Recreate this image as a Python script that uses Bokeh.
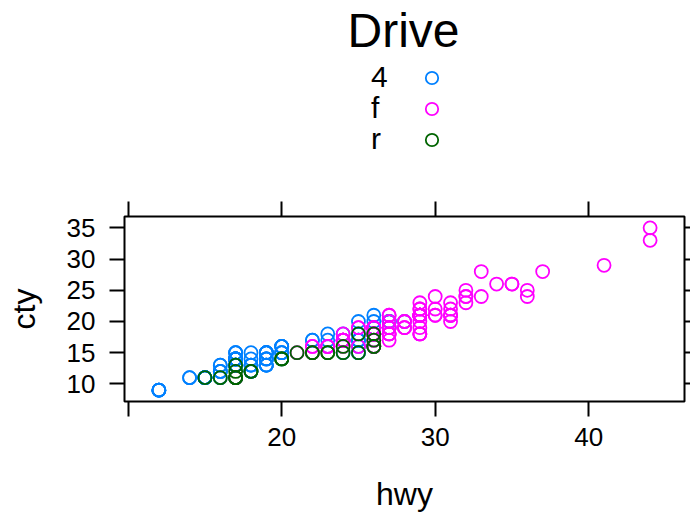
from bokeh.plotting import figure
from bokeh.layouts import column
from bokeh.models import (Range1d, LinearAxis, FixedTicker, Legend, LegendItem, Label)
from bokeh.embed import file_html
from bokeh.resources import INLINE

# ---- data (mpg: hwy vs cty by drive train) ----
hwy_4 = [26, 25, 28, 27, 25, 25, 25, 25, 24, 25, 23,
         19, 14, 15, 17,
         19, 18, 17, 17, 19, 19, 12, 17, 15,
         17, 17, 12, 17, 16, 18, 15,
         16, 12, 17, 17, 16, 12, 15, 16, 17, 15,
         17, 19, 19, 19, 19, 17,
         17, 17, 16, 16, 17, 15, 17,
         22, 19, 20, 17, 12, 19, 18, 14,
         15, 18, 18, 15,
         17, 19, 19, 17,
         17, 17, 20, 18,
         25, 24, 27, 25, 26, 23,
         26, 26, 26, 26, 27, 23, 27, 26,
         20, 20, 19, 17, 20, 17,
         15, 18,
         20, 20, 22, 17, 19, 18, 20]
cty_4 = [18, 16, 20, 19, 15, 17, 17, 15, 15, 17, 16,
         14, 11, 11, 14,
         15, 14, 13, 14, 14, 14, 9, 11, 11,
         13, 13, 9, 13, 11, 13, 11,
         12, 9, 13, 13, 12, 9, 11, 12, 13, 11,
         14, 15, 15, 13, 13, 14,
         14, 14, 13, 13, 13, 11, 13,
         17, 15, 15, 14, 9, 14, 13, 11,
         11, 12, 12, 11,
         14, 13, 13, 14,
         14, 15, 14, 12,
         18, 18, 20, 20, 20, 18,
         21, 19, 19, 19, 20, 17, 20, 19,
         15, 16, 15, 15, 16, 14,
         11, 13,
         15, 16, 17, 15, 15, 15, 16]

hwy_f = [29, 29, 31, 30, 26, 26, 27,
         27, 30, 26, 29, 26,
         24, 24, 22, 22, 24, 24, 17, 22, 21, 23, 23,
         33, 32, 32, 29, 32, 34, 36, 36, 29,
         26, 27, 30, 31, 26, 26, 28,
         26, 29, 28, 27, 24, 24, 24,
         29, 27, 31, 32, 27, 26,
         26, 25, 25,
         26, 26, 27, 26, 25,
         29, 27, 31, 31, 26, 26, 28,
         27, 29, 31, 31, 26, 26, 27,
         30, 33, 35, 37, 35,
         29, 26, 29, 29, 24,
         44, 29, 26, 29, 29, 29, 29, 23, 24,
         44, 41, 29, 26, 28, 29,
         29, 29, 28, 29, 26, 26, 26]
cty_f = [18, 21, 20, 21, 16, 18, 18,
         19, 22, 18, 18, 17,
         18, 17, 16, 16, 17, 17, 11, 15, 15, 16, 16,
         28, 24, 25, 23, 24, 26, 25, 24, 21,
         18, 18, 21, 21, 18, 18, 19,
         19, 19, 20, 20, 17, 16, 17,
         21, 19, 23, 23, 19, 19,
         18, 19, 19,
         18, 16, 17, 18, 16,
         21, 21, 21, 21, 18, 18, 19,
         21, 21, 21, 22, 18, 18, 18,
         24, 24, 26, 28, 26,
         21, 19, 22, 21, 17,
         33, 21, 19, 22, 21, 21, 21, 16, 17,
         35, 29, 21, 19, 20, 20,
         21, 18, 19, 21, 16, 18, 17]

hwy_r = [20, 15, 20, 17, 17,
         26, 23, 26, 25, 24,
         17, 17, 18,
         26, 25, 26, 24, 21, 22, 23, 22, 20,
         17, 16, 18]
cty_r = [14, 11, 14, 13, 12,
         16, 15, 16, 15, 15,
         11, 11, 12,
         18, 18, 17, 16, 15, 15, 15, 15, 14,
         11, 11, 12]

groups = ["4", "f", "r"]
colors = ["#0080ff", "#ff00ff", "#006400"]
x_ticks = [10, 20, 30, 40]
y_ticks = [10, 15, 20, 25, 30, 35]
legend_title = "Drive"
x_label = "hwy"
y_label = "cty"

FONT = "Liberation Sans"
MARK_SIZE = 13
MARK_WIDTH = 1.8
FRAME_LEFT = 124

xs_all = [hwy_4, hwy_f, hwy_r]
ys_all = [cty_4, cty_f, cty_r]

# ---------------- key (legend) figure on top ----------------
KEY_H = 160
k = figure(width=690, height=KEY_H, output_backend="svg", toolbar_location=None,
           x_range=Range1d(0, 1), y_range=Range1d(0, 1),
           x_axis_location=None, y_axis_location=None, min_border=0)
k.grid.visible = False
k.outline_line_color = None
k.background_fill_color = "white"
k.border_fill_color = "white"

# legend sources: the group data, which falls outside this key panel's ranges (clipped)
key_marks = []
key_blank = []
for col, xs, ys in zip(colors, xs_all, ys_all):
    key_marks.append(k.scatter(xs, ys, marker="circle", size=MARK_SIZE, fill_color=None,
                               line_color=col, line_width=MARK_WIDTH))
    key_blank.append(k.scatter([], [], marker="circle", size=1, fill_color=None,
                               line_color=None))

# symbol column (right)
GH = 31
key_sym = Legend(items=[LegendItem(label=" ", renderers=[r]) for r in key_marks],
                 location=(431 - GH / 2 - FRAME_LEFT, KEY_H - 62 - 3 * GH),
                 orientation="vertical",
                 glyph_width=GH, glyph_height=GH, label_height=0, spacing=0,
                 padding=0, margin=0, label_standoff=0,
                 label_text_font_size="1px",
                 background_fill_alpha=0, border_line_color=None)
k.add_layout(key_sym, "center")

# text column (left), one row each
row_centers = [77.5, 108.5, 139.5]
for g, r, c in zip(groups, key_blank, row_centers):
    lg = Legend(items=[LegendItem(label=g, renderers=[r])],
                location=(370 - FRAME_LEFT, KEY_H - (c + 16.75)),
                glyph_width=1, glyph_height=1, label_standoff=0, spacing=0,
                padding=0, margin=0, label_text_font=FONT, label_text_font_size="30px",
                label_text_color="black", background_fill_alpha=0, border_line_color=None)
    k.add_layout(lg, "center")

k.add_layout(Label(x=403 - FRAME_LEFT, y=KEY_H - 30, x_units="screen", y_units="screen",
                   text=legend_title, text_align="center", text_baseline="alphabetic",
                   text_font=FONT, text_font_size="48px", text_color="black"))

# ---------------- main panel ----------------
p = figure(width=690, height=514 - KEY_H, output_backend="svg", toolbar_location=None,
           x_range=Range1d(9.76, 46.24), y_range=Range1d(7.18, 36.82),
           x_axis_location=None, y_axis_location=None,
           min_border_left=FRAME_LEFT, min_border_right=6,
           min_border_top=216 - KEY_H, min_border_bottom=113)
p.grid.visible = False
p.outline_line_color = "black"
p.outline_line_width = 2
p.background_fill_color = "white"
p.border_fill_color = "white"


def style_axis(ax, ticks, tick_out):
    ax.ticker = FixedTicker(ticks=ticks)
    ax.axis_line_color = None
    ax.major_tick_in = 0
    ax.major_tick_out = tick_out
    ax.major_tick_line_width = 2
    ax.major_tick_line_color = "black"
    ax.minor_tick_line_color = None
    ax.major_label_text_font = FONT
    ax.major_label_text_font_size = "26px"
    ax.major_label_text_color = "black"
    ax.axis_label_text_font = FONT
    ax.axis_label_text_font_size = "32px"
    ax.axis_label_text_font_style = "normal"
    ax.axis_label_text_color = "black"


xb = LinearAxis()
style_axis(xb, x_ticks, 15)
xb.major_label_overrides = {10: ""}
xb.major_label_standoff = 11
xb.axis_label = x_label
xb.axis_label_standoff = 27
p.add_layout(xb, "below")

yl = LinearAxis()
style_axis(yl, y_ticks, 15)
yl.major_label_standoff = 14
yl.major_label_orientation = "horizontal"
yl.axis_label = y_label
yl.axis_label_standoff = 22
p.add_layout(yl, "left")

xt = LinearAxis()
style_axis(xt, x_ticks, 15)
xt.major_label_overrides = {t: "" for t in x_ticks}
xt.major_label_standoff = 0
p.add_layout(xt, "above")

yr = LinearAxis()
style_axis(yr, y_ticks, 6)
yr.major_label_overrides = {t: "" for t in y_ticks}
yr.major_label_standoff = 0
p.add_layout(yr, "right")

for col, xs, ys in zip(colors, xs_all, ys_all):
    p.scatter(xs, ys, marker="circle", size=MARK_SIZE, fill_color=None,
              line_color=col, line_width=MARK_WIDTH)

layout = column(k, p, spacing=0)
open("out.html", "w").write(file_html(layout, INLINE))
